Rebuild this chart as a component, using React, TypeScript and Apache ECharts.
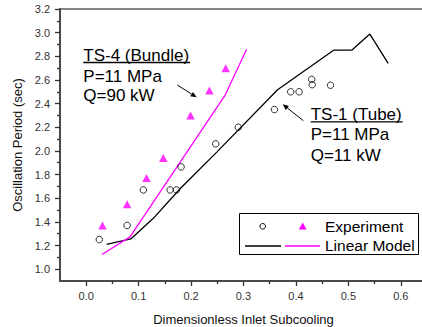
import React, { useEffect, useRef } from "react";
import * as echarts from "echarts";

// TS-1 (Tube) experiment points
const tubeExpX = [0.025, 0.078, 0.109, 0.16, 0.172, 0.181, 0.247, 0.29, 0.359, 0.39, 0.406, 0.43, 0.431, 0.466];
const tubeExpY = [1.25, 1.37, 1.67, 1.67, 1.67, 1.865, 2.06, 2.2, 2.35, 2.5, 2.5, 2.605, 2.56, 2.555];
// TS-4 (Bundle) experiment points
const bundleExpX = [0.031, 0.078, 0.115, 0.147, 0.199, 0.235, 0.266];
const bundleExpY = [1.37, 1.55, 1.77, 1.94, 2.3, 2.51, 2.7];
// Linear model curves
const tubeModelX = [0.039, 0.085, 0.128, 0.179, 0.249, 0.365, 0.4725, 0.507, 0.541, 0.576];
const tubeModelY = [1.21, 1.256, 1.43, 1.68, 1.99, 2.517, 2.853, 2.853, 2.988, 2.74];
const bundleModelX = [0.03, 0.0835, 0.265, 0.306];
const bundleModelY = [1.124, 1.273, 2.472, 2.859];
// Axis ticks
const xTickLabels = [0, 0.1, 0.2, 0.3, 0.4, 0.5, 0.6];
const xMinorTicks = [0.05, 0.15, 0.25, 0.35, 0.45, 0.55];
const yTickLabels = [1.0, 1.2, 1.4, 1.6, 1.8, 2.0, 2.2, 2.4, 2.6, 2.8, 3.0, 3.2];
const yMinorTicks = [1.1, 1.3, 1.5, 1.7, 1.9, 2.1, 2.3, 2.5, 2.7, 2.9, 3.1];

const FONT = "'Liberation Sans', Arial, Helvetica, sans-serif";

const zip = (xs: number[], ys: number[]) => xs.map((x, i) => [x, ys[i]]);

export default function App() {
  const ref = useRef<HTMLDivElement>(null);
  useEffect(() => {
    if (!ref.current) return;
    const chart = echarts.init(ref.current, null, { renderer: "svg" });
    const axisLine = { show: true, onZero: false, lineStyle: { color: "#4a4a4a", width: 2 } };
    const tickStyle = { color: "#333", width: 1.3 };
    const labelStyle = { fontSize: 11, color: "#333", fontFamily: FONT };
    const nameStyle = { fontSize: 13, color: "#111", fontFamily: FONT };
    const arrow1 = { x1: 177.3, y1: 85, tip: [196.7, 97.3], a: [190.3, 96.2], b: [192.9, 92.0] };
    const arrow2 = { x1: 303.3, y1: 120.7, tip: [282.7, 104.3], a: [288.9, 106.0], b: [285.8, 110.0] };
    const txt = (text: string, x: number, y: number, size: number) => ({
      type: "text",
      x,
      y,
      style: { text, fill: "#000", font: `${size}px ${FONT}`, textAlign: "left", textVerticalAlign: "middle", verticalAlign: "middle" },
      z: 10,
    });
    const ln = (x1: number, y1: number, x2: number, y2: number, color: string, w: number) => ({
      type: "line",
      shape: { x1, y1, x2, y2 },
      style: { stroke: color, lineWidth: w },
      z: 10,
    });
    chart.setOption({
      animation: false,
      backgroundColor: "#fff",
      grid: {
        left: 60,
        top: 9,
        width: 367,
        height: 272,
        show: true,
        borderColor: "#111",
        borderWidth: 1.2,
        backgroundColor: "transparent",
        containLabel: false,
        outerBoundsMode: "none",
      },
      xAxis: [
        {
          type: "value",
          min: -0.05,
          max: 0.65,
          position: "bottom",
          axisLine,
          axisTick: { show: true, customValues: xTickLabels, length: 5, lineStyle: tickStyle },
          axisLabel: { show: true, customValues: xTickLabels, formatter: (v: number) => v.toFixed(1), margin: 9, ...labelStyle },
          splitLine: { show: false },
          name: "Dimensionless Inlet Subcooling",
          nameLocation: "middle",
          nameGap: 32,
          nameTextStyle: nameStyle,
        },
        {
          type: "value",
          min: -0.05,
          max: 0.65,
          position: "bottom",
          axisLine: { show: false, onZero: false },
          axisTick: { show: true, customValues: xMinorTicks, length: 3, lineStyle: tickStyle },
          axisLabel: { show: false },
          splitLine: { show: false },
        },
      ],
      yAxis: [
        {
          type: "value",
          min: 0.9,
          max: 3.2,
          position: "left",
          axisLine,
          axisTick: { show: true, customValues: yTickLabels, length: 5, lineStyle: tickStyle },
          axisLabel: { show: true, customValues: yTickLabels, formatter: (v: number) => v.toFixed(1), margin: 10, ...labelStyle },
          splitLine: { show: false },
          name: "Oscillation Period (sec)",
          nameLocation: "middle",
          nameGap: 32,
          nameTextStyle: nameStyle,
        },
        {
          type: "value",
          min: 0.9,
          max: 3.2,
          position: "left",
          axisLine: { show: false, onZero: false },
          axisTick: { show: true, customValues: yMinorTicks, length: 3, lineStyle: tickStyle },
          axisLabel: { show: false },
          splitLine: { show: false },
        },
      ],
      series: [
        {
          name: "TS-1 Linear Model",
          type: "line",
          data: zip(tubeModelX, tubeModelY),
          showSymbol: false,
          symbol: "none",
          lineStyle: { color: "#000", width: 1.3 },
          z: 2,
        },
        {
          name: "TS-4 Linear Model",
          type: "line",
          data: zip(bundleModelX, bundleModelY),
          showSymbol: false,
          symbol: "none",
          lineStyle: { color: "#ff00ff", width: 1.3 },
          z: 2,
        },
        {
          name: "TS-1 Experiment",
          type: "scatter",
          data: zip(tubeExpX, tubeExpY),
          symbol: "circle",
          symbolSize: 6.5,
          itemStyle: { color: "rgba(0,0,0,0)", borderColor: "#000", borderWidth: 1 },
          z: 3,
        },
        {
          name: "TS-4 Experiment",
          type: "scatter",
          data: zip(bundleExpX, bundleExpY),
          symbol: "triangle",
          symbolSize: [8.5, 8],
          itemStyle: { color: "#ff00ff", borderWidth: 0 },
          z: 3,
        },
      ],
      graphic: [
        // TS-4 annotation
        txt("TS-4 (Bundle)", 83.3, 55.3, 17),
        ln(83.3, 62.5, 190, 62.5, "#000", 1.3),
        txt("P=11 MPa", 83.3, 76, 17),
        txt("Q=90 kW", 83.3, 95.5, 17),
        ln(arrow1.x1, arrow1.y1, (arrow1.a[0] + arrow1.b[0]) / 2, (arrow1.a[1] + arrow1.b[1]) / 2, "#000", 1),
        { type: "polygon", shape: { points: [arrow1.tip, arrow1.a, arrow1.b] }, style: { fill: "#000" }, z: 10 },
        // TS-1 annotation
        txt("TS-1 (Tube)", 310.7, 114, 17),
        ln(310.7, 121.8, 402.7, 121.8, "#000", 1.3),
        txt("P=11 MPa", 310.7, 134.3, 17),
        txt("Q=11 kW", 310.7, 155, 17),
        ln(arrow2.x1, arrow2.y1, (arrow2.a[0] + arrow2.b[0]) / 2, (arrow2.a[1] + arrow2.b[1]) / 2, "#000", 1),
        { type: "polygon", shape: { points: [arrow2.tip, arrow2.a, arrow2.b] }, style: { fill: "#000" }, z: 10 },
        // Legend
        {
          type: "rect",
          shape: { x: 239.5, y: 213.5, width: 179, height: 41 },
          style: { fill: "#fff", stroke: "#000", lineWidth: 1 },
          z: 9,
        },
        { type: "circle", shape: { cx: 262.7, cy: 226.3, r: 2.8 }, style: { fill: "#fff", stroke: "#000", lineWidth: 1 }, z: 10 },
        {
          type: "polygon",
          shape: { points: [[302.7, 222.6], [306.6, 229.4], [298.8, 229.4]] },
          style: { fill: "#ff00ff" },
          z: 10,
        },
        txt("Experiment", 325, 226.5, 15.5),
        ln(245, 246, 281, 246, "#000", 1.3),
        ln(285, 246, 320, 246, "#ff00ff", 1.3),
        txt("Linear Model", 325, 245.8, 15.5),
      ],
    });
    return () => chart.dispose();
  }, []);
  return (
    <div
      ref={ref}
      style={{ position: "fixed", left: 0, top: 0, width: 422, height: 327, background: "#fff" }}
    />
  );
}
